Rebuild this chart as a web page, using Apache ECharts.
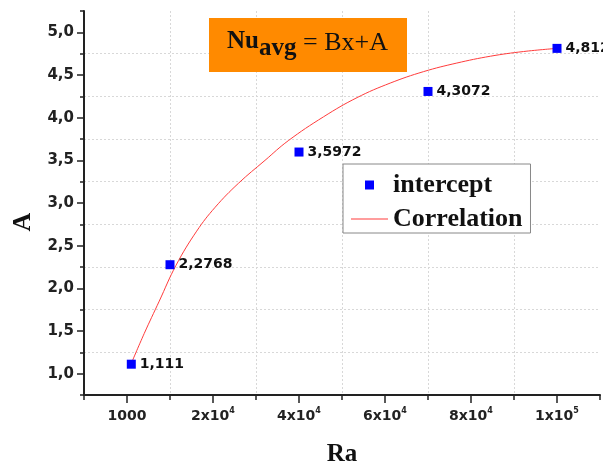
<!DOCTYPE html>
<html>
<head>
<meta charset="utf-8">
<script src="https://cdn.jsdelivr.net/npm/echarts@6/dist/echarts.min.js"></script>
<style>
  html, body { margin: 0; padding: 0; background: #fff; }
  #chart { width: 603px; height: 466px; }
</style>
</head>
<body>
<div id="chart"></div>
<script>
// Measured intercepts A for each Rayleigh number
const raValues = [1000, 10000, 40000, 70000, 100000];
const interceptValues = [1.111, 2.2768, 3.5972, 4.3072, 4.812];

// Correlation curve sampled along Ra
const corrRa = [1000, 4000, 7500, 11400, 16200, 20500, 25900, 32100, 37500, 45700, 53500, 61200, 69000, 76700, 84500, 92200, 100000];
const corrA = [1.12, 1.47, 1.85, 2.27, 2.67, 2.95, 3.23, 3.50, 3.73, 4.01, 4.235, 4.405, 4.54, 4.64, 4.72, 4.775, 4.812];

// Tick labels on the Ra axis
const xTickValues = [0, 20000, 40000, 60000, 80000, 100000];
const xTickLabels = ['{b|1000}', '{b|2x10}{s|4}', '{b|4x10}{s|4}', '{b|6x10}{s|4}', '{b|8x10}{s|4}', '{b|1x10}{s|5}'];

const chart = echarts.init(document.getElementById('chart'), null, { renderer: 'canvas' });

const axisColor = '#222';
const gridLine = { show: true, lineStyle: { color: '#d8d8d8', type: [2, 2], width: 1 }, showMinLine: false, showMaxLine: false };
const numFont = 'DejaVu Sans';
const serif = '"Liberation Serif", "Times New Roman", serif';

const scatterData = raValues.map((x, i) => [x, interceptValues[i]]);
const corrData = corrRa.map((x, i) => [x, corrA[i]]);

// legend glyphs: a 9px square and a 1px line, both centred in a 37x9 box
const squareIcon = 'path://M0,0h0.01v0.01h-0.01z M14,0h9v9h-9z M36.99,8.99h0.01v0.01h-0.01z';
const lineIcon = 'path://M0,0h0.01v0.01h-0.01z M0,4h37v1h-37z M36.99,8.99h0.01v0.01h-0.01z';

chart.setOption({
  animation: false,
  backgroundColor: '#fff',
  grid: { left: 84, right: 3, top: 11, bottom: 71, containLabel: false, outerBoundsMode: 'none' },
  xAxis: [
    {
      type: 'value', min: -10000, max: 110000, interval: 10000,
      name: 'Ra', nameLocation: 'middle', nameGap: 47,
      nameTextStyle: { fontFamily: serif, fontWeight: 'bold', fontSize: 25, color: '#111' },
      axisLine: { show: true, onZero: false, lineStyle: { color: axisColor, width: 2 } },
      axisTick: { show: true, length: 5, lineStyle: { color: axisColor, width: 1.5 } },
      splitLine: { show: false },
      axisLabel: {
        margin: 12,
        showMinLabel: true, showMaxLabel: true,
        formatter: function (v) {
          const k = xTickValues.indexOf(v);
          return k >= 0 ? xTickLabels[k] : '';
        },
        rich: {
          b: { fontFamily: numFont, fontWeight: 'bold', fontSize: 14, color: '#222', lineHeight: 18 },
          s: { fontFamily: numFont, fontWeight: 'bold', fontSize: 8, color: '#222', verticalAlign: 'top', lineHeight: 10 }
        }
      }
    },
    {
      type: 'value', min: -10000, max: 110000, interval: 20000,
      position: 'bottom',
      axisLine: { show: false, onZero: false },
      axisTick: { show: false },
      axisLabel: { show: false },
      minorTick: { show: true, splitNumber: 2, length: 8, lineStyle: { color: axisColor, width: 1.5 } },
      splitLine: gridLine
    }
  ],
  yAxis: [
    {
      type: 'value', min: 0.75, max: 5.25, interval: 0.25,
      name: 'A', nameLocation: 'middle', nameGap: 45, nameRotate: 90,
      nameTextStyle: { fontFamily: serif, fontWeight: 'bold', fontSize: 26, color: '#111', padding: [0, 38, 0, 0] },
      axisLine: { show: true, onZero: false, lineStyle: { color: axisColor, width: 2 } },
      axisTick: { show: true, length: 4, lineStyle: { color: axisColor, width: 1.5 } },
      splitLine: { show: false },
      axisLabel: {
        margin: 10,
        fontFamily: numFont, fontWeight: 'bold', fontSize: 15, color: '#222',
        formatter: function (v) {
          const r = Math.round(v * 100);
          return r % 50 === 0 ? (v.toFixed(1)).replace('.', ',') : '';
        }
      }
    },
    {
      type: 'value', min: 0.75, max: 5.25, interval: 0.5,
      position: 'left',
      axisLine: { show: false, onZero: false },
      axisTick: { show: false },
      axisLabel: { show: false },
      minorTick: { show: true, splitNumber: 2, length: 7, lineStyle: { color: axisColor, width: 1.5 } },
      splitLine: gridLine
    }
  ],
  legend: {
    orient: 'vertical',
    left: 343, top: 164,
    padding: [8, 8, 1, 8],
    itemGap: 8,
    itemWidth: 37, itemHeight: 9,
    borderColor: '#888', borderWidth: 1,
    backgroundColor: '#fff',
    textStyle: { fontFamily: serif, fontWeight: 'bold', fontSize: 26, color: '#111', lineHeight: 24 },
    data: [
      { name: 'intercept', icon: squareIcon },
      { name: 'Correlation', icon: lineIcon }
    ]
  },
  graphic: [
    { type: 'rect', left: 209, top: 18, shape: { width: 198, height: 54 }, style: { fill: '#FF8A00' }, z: 10 },
    { type: 'text', x: 227, y: 42, style: { text: 'Nu', fontFamily: serif, fontWeight: 'bold', fontSize: 25, fill: '#111', verticalAlign: 'middle', align: 'left' }, z: 11 },
    { type: 'text', x: 259, y: 49, style: { text: 'avg', fontFamily: serif, fontWeight: 'bold', fontSize: 25, fill: '#111', verticalAlign: 'middle', align: 'left' }, z: 11 },
    { type: 'text', x: 303, y: 43, style: { text: '= Bx+A', fontFamily: serif, fontSize: 26, fill: '#111', verticalAlign: 'middle', align: 'left' }, z: 11 }
  ],
  series: [
    {
      name: 'Correlation', type: 'line',
      data: corrData, smooth: 0.4, symbol: 'none',
      lineStyle: { color: '#ff3c3c', width: 1 },
      itemStyle: { color: '#ff3c3c' },
      z: 2
    },
    {
      name: 'intercept', type: 'scatter',
      data: scatterData, symbol: 'rect', symbolSize: 9,
      itemStyle: { color: '#0000ff', opacity: 1 },
      label: {
        show: true, position: 'right', distance: 4,
        fontFamily: numFont, fontWeight: 'bold', fontSize: 14, color: '#111',
        formatter: function (p) { return String(p.value[1]).replace('.', ','); }
      },
      z: 3
    }
  ]
});
</script>
</body>
</html>
